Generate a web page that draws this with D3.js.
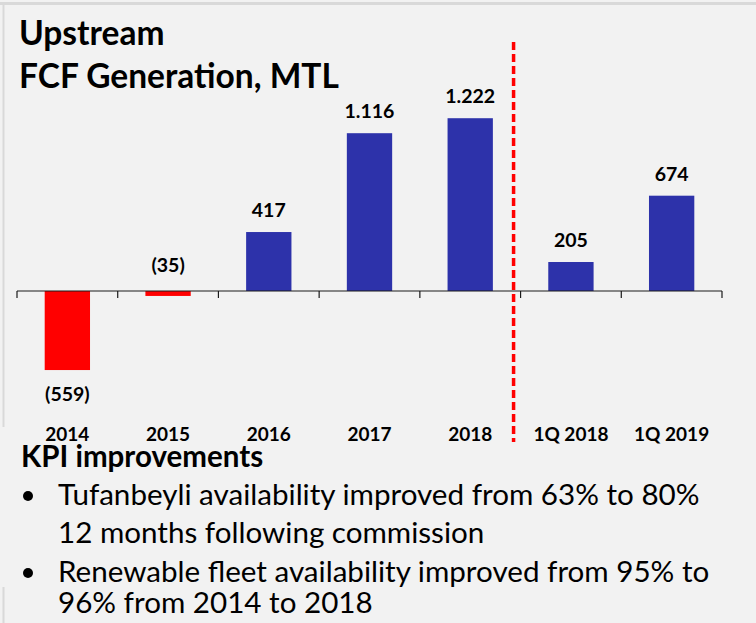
<!DOCTYPE html>
<html>
<head>
<meta charset="utf-8">
<script src="https://cdn.jsdelivr.net/npm/d3@7/dist/d3.min.js"></script>
<style>
  html, body { margin: 0; padding: 0; background: #f2f2f2; }
  svg { display: block; }
  text { font-family: Lato, "Open Sans", sans-serif; }
</style>
</head>
<body>
<svg id="chart" width="756" height="623"></svg>
<script>
// ---- data ----
const categories = ["2014", "2015", "2016", "2017", "2018", "1Q 2018", "1Q 2019"];
const values = [-559, -35, 417, 1116, 1222, 205, 674];
const titleLines = ["Upstream", "FCF Generation, MTL"];
const kpiTitle = "KPI improvements";
const bulletLines = [
  ["Tufanbeyli availability improved from 63% to 80%", "12 months following commission"],
  ["Renewable fleet availability improved from 95% to", "96% from 2014 to 2018"]
];

const W = 756, H = 623;
const svg = d3.select("#chart");

svg.append("rect").attr("width", W).attr("height", H).attr("fill", "#f2f2f2");
// frame lines
svg.append("line").attr("x1", 0).attr("x2", W).attr("y1", 3.5).attr("y2", 3.5)
  .attr("stroke", "#d9d9d9").attr("stroke-width", 3);
svg.append("line").attr("x1", 3.5).attr("x2", 3.5).attr("y1", 3).attr("y2", 427)
  .attr("stroke", "#d9d9d9").attr("stroke-width", 2);
svg.append("line").attr("x1", 3.5).attr("x2", 3.5).attr("y1", 587).attr("y2", H)
  .attr("stroke", "#d9d9d9").attr("stroke-width", 2);

// scales
const padIn = 0.55;
const x = d3.scaleBand().domain(categories).range([17, 722])
  .paddingInner(padIn).paddingOuter(padIn / 2);
const y = d3.scaleLinear().domain([0, 1000]).range([291, 291 - 141.4]);
const fmtLocale = d3.formatLocale({decimal: ",", thousands: ".", grouping: [3], currency: ["", ""]});
const fmt = fmtLocale.format(",.0f");
const label = v => v < 0 ? "(" + fmt(-v) + ")" : fmt(v);

const data = categories.map((c, i) => ({c, v: values[i]}));
const half = x.step() * padIn / 2;

// bars
svg.append("g").selectAll("rect").data(data).join("rect")
  .attr("x", d => x(d.c))
  .attr("width", x.bandwidth())
  .attr("y", d => Math.min(y(d.v), y(0)))
  .attr("height", d => Math.abs(y(d.v) - y(0)))
  .attr("fill", d => d.v < 0 ? "#ff0000" : "#2d32aa");

// axis line with boundary ticks
const bounds = categories.map(c => x(c) - half).concat([x(categories[categories.length - 1]) + x.bandwidth() + half]);
const ax = svg.append("g").attr("stroke", "#1a1a1a").attr("stroke-width", 1.2);
ax.append("line").attr("x1", bounds[0]).attr("x2", bounds[bounds.length - 1])
  .attr("y1", y(0)).attr("y2", y(0));
ax.selectAll(".tk").data(bounds).join("line").attr("class", "tk")
  .attr("x1", d => d).attr("x2", d => d).attr("y1", y(0)).attr("y2", y(0) + 7);

// value labels
svg.append("g").selectAll("text").data(data).join("text")
  .attr("x", d => x(d.c) + x.bandwidth() / 2)
  .attr("y", d => {
    if (d.v >= 0) return y(d.v) - 15;
    if (y(d.v) - y(0) < 20) return y(0) - 19;
    return y(d.v) + 31;
  })
  .attr("text-anchor", "middle")
  .attr("font-weight", 700).attr("font-size", 19.5).attr("fill", "#000")
  .text(d => label(d.v));

// category labels
svg.append("g").selectAll("text").data(categories).join("text")
  .attr("x", d => x(d) + x.bandwidth() / 2)
  .attr("y", 441)
  .attr("text-anchor", "middle")
  .attr("font-weight", 700).attr("font-size", 19).attr("fill", "#000")
  .text(d => d);

// divider
const divX = x("1Q 2018") - half - 7;
svg.append("line").attr("x1", divX).attr("x2", divX).attr("y1", 42).attr("y2", 442)
  .attr("stroke", "#ff0000").attr("stroke-width", 3.5).attr("stroke-dasharray", "8,4");

// title
svg.append("g").selectAll("text").data(titleLines).join("text")
  .attr("x", 19).attr("y", (d, i) => 45 + i * 43)
  .attr("font-weight", 700).attr("font-size", 33.5).attr("fill", "#000")
  .text(d => d);

// KPI section
svg.append("text").attr("x", 21).attr("y", 467)
  .attr("font-weight", 700).attr("font-size", 29.5).attr("fill", "#000").text(kpiTitle);

const baselines = [[505, 543], [582, 613]];
bulletLines.forEach((lines, bi) => {
  svg.append("circle").attr("cx", 28).attr("cy", baselines[bi][0] - 9).attr("r", 5).attr("fill", "#000");
  lines.forEach((t, li) => {
    svg.append("text").attr("x", 58).attr("y", baselines[bi][li])
      .attr("font-size", 29.6).attr("fill", "#000").text(t);
  });
});
</script>
</body>
</html>
